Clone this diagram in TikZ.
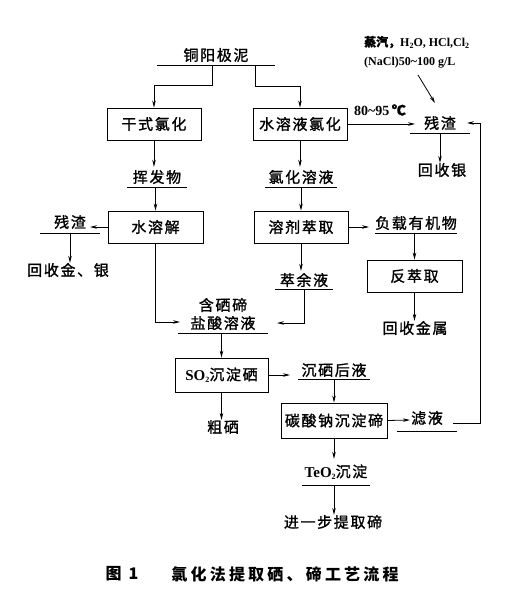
\documentclass[tikz,border=0pt]{standalone}
\usepackage{fontspec}
\setmainfont{Liberation Serif}
\newfontfamily\cjk[LetterSpace=11,FakeBold=1.3]{Noto Sans CJK SC}
\newfontfamily\cjkplain[FakeBold=1.3]{Noto Sans CJK SC}
\newfontfamily\cjkcap[LetterSpace=20]{Noto Sans CJK SC}
\usetikzlibrary{arrows.meta,calc}
\newcommand{\mysub}[1]{\raisebox{-0.35ex}{\footnotesize #1}}
\begin{document}
\begin{tikzpicture}[x=1pt,y=-1pt,
  every node/.style={font=\cjk\fontsize{15}{18}\selectfont, inner sep=0pt},
  box/.style={draw, line width=0.9pt, minimum width=#1, minimum height=32pt},
  ul/.style 2 args={minimum width=#1, minimum height=#2},
  arr/.style={line width=0.8pt, -{Stealth[length=7pt,width=3.5pt]}},
  under/.style={line width=1.3pt}
]
\useasboundingbox (0,0) rectangle (513,604);
% nodes
\node[ul={118}{20}] (src) at (216,55) {铜阳极泥};
\node[box=94] (b1) at (154,124) {干式氯化};
\node[box=94] (b2) at (300,124) {水溶液氯化};
\node[ul={60}{20}] (hff) at (157,177) {挥发物};
\node[ul={72}{20}] (lhry) at (301,177) {氯化溶液};
\node[box=95] (b3) at (155.5,227) {水溶解};
\node[box=94] (b4) at (301,227) {溶剂萃取};
\node[ul={60}{22}] (rzL) at (70,222) {残渣};
\node (hsjy) at (68,270) {回收金、银};
\node[ul={60}{20}] (rzR) at (440,123) {残渣};
\node (hsy) at (442,170) {回收银};
\node[ul={78}{20}] (fz) at (416,223) {负载有机物};
\node[box=95] (b5) at (414.5,276) {反萃取};
\node (hsjs) at (415,328) {回收金属};
\node[ul={58}{18}] (cyy) at (304,280) {萃余液};
\node[ul={90}{38}, align=center] (hcl) at (223,314) {含硒碲\\盐酸溶液};
\node[box=93, minimum height=34pt] (b6) at (221.5,375) {{\rmfamily\bfseries SO\mysub{2}}沉淀硒};
\node (cx) at (223,427) {粗硒};
\node[ul={72}{18}] (cxhy) at (334,370) {沉硒后液};
\node[box=106, minimum height=35pt] (b7) at (334,420.5) {碳酸钠沉淀碲};
\node[ul={60}{26}] (ly) at (427,418) {滤液};
\node[ul={68}{26}] (teo) at (336,472) {{\rmfamily\bfseries TeO\mysub{2}}沉淀};
\node (jyb) at (333,522) {进一步提取碲};
\node[font=\rmfamily\bfseries\fontsize{14}{16}\selectfont] (temp) at (380,110) {80\textasciitilde 95\,{\cjkplain ℃}};
\node[anchor=west, align=left, font=\rmfamily\bfseries\fontsize{12}{19}\selectfont] (steam) at (364,52)
  {{\cjkplain 蒸汽，}H\mysub{2}O, HCl,Cl\mysub{2}\\(NaCl)50\textasciitilde 100 g/L};
\node[font=\cjkcap\bfseries\fontsize{16}{18}\selectfont] (capnum) at (122,574) {图 1};
\node[font=\cjkcap\bfseries\fontsize{16}{18}\selectfont] (cap) at (285,574) {氯化法提取硒、碲工艺流程};
% underlines
\foreach \n in {src,hff,lhry,rzL,rzR,fz,cyy,hcl,cxhy,ly,teo}
  \draw[under] (\n.south west) -- (\n.south east);
% coordinates
\coordinate (srcL) at (212,65);
\coordinate (srcR) at (255,65);
\coordinate (rzLtip) at (90,227);
\coordinate (hclL) at (180,322);
\coordinate (hclR) at (277,323);
\coordinate (rzRtip) at (415,124);
\coordinate (cxhytip) at (290,375);
\coordinate (lytip) at (410,420);
\coordinate (lyR) at (453,423);
\coordinate (retT) at (480,123);
\coordinate (rzRin) at (467,123);
\coordinate (stA) at (418,75);
\coordinate (stB) at (435,103);
% connectors
\draw[arr] (srcL) -- ++(0,20) -| (b1);
\draw[arr] (srcR) -- ++(0,21) -| (b2);
\draw[arr] (b1.south) -- (b1.south |- hff.north);
\draw[arr] (b3.north |- hff.south) -- (b3.north);
\draw[arr] (b2.south) -- (b2.south |- lhry.north);
\draw[arr] (b4.north |- lhry.south) -- (b4.north);
\draw[arr] (b3.west) -- (rzLtip);
\draw[arr] (rzL.south) -- (rzL.south |- hsjy.north);
\draw[arr] (b3.south) |- (hclL);
\draw[arr] (cyy.south) |- (hclR);
\draw[arr] (b4.south) -- (b4.south |- cyy.north);
\draw[arr, shorten >=6pt] (b4.east) -- (b4.east -| fz.west);
\draw[arr] (b5.north |- fz.south) -- (b5.north);
\draw[arr] (b5.south) -- (b5.south |- hsjs.north);
\draw[arr] (b2.east) -- (rzRtip);
\draw[arr] (rzR.south) -- (rzR.south |- hsy.north);
\draw[arr] (b6.north |- hcl.south) -- (b6.north);
\draw[arr] (b6.south) -- (b6.south |- cx.north);
\draw[arr] (b6.east) -- (cxhytip);
\draw[arr] (b7.north |- cxhy.south) -- (b7.north);
\draw[arr] (b7.east) -- (lytip);
\draw[arr] (b7.south) -- (b7.south |- teo.north);
\draw[arr] (b7.south |- teo.south) -- (b7.south |- jyb.north);
\draw[arr] (lyR) -| (retT) -- (rzRin);
\draw[arr] (stA) -- (stB);
\end{tikzpicture}
\end{document}
